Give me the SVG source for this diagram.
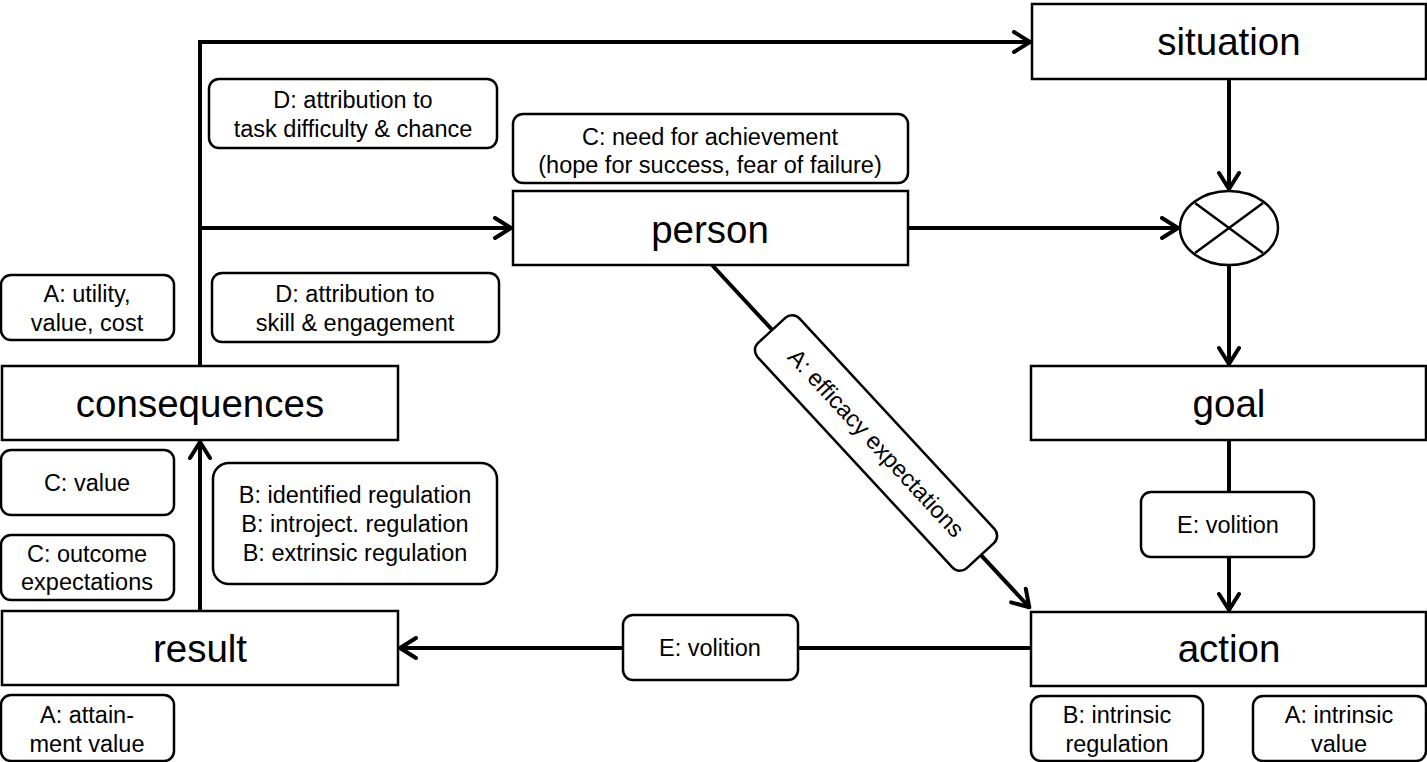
<svg xmlns="http://www.w3.org/2000/svg" width="1427" height="762" viewBox="0 0 1427 762">
<style>
text{font-family:"Liberation Sans",Arial,sans-serif;fill:#000;text-anchor:middle}
.big{font-size:38.5px}
.lab{font-size:23.5px}
.node{fill:#fff;stroke:#000;stroke-width:2.5}
.tag{fill:#fff;stroke:#000;stroke-width:2.5}
.con{fill:none;stroke:#000;stroke-width:4}
</style>
<defs>
<marker id="arr" markerUnits="userSpaceOnUse" viewBox="-22 -12 24 24" refX="0" refY="0" markerWidth="24" markerHeight="24" orient="auto">
<path d="M-17,-10 L-1,0 L-17,10" fill="none" stroke="#000" stroke-width="4" stroke-linecap="round" stroke-linejoin="round"/>
</marker>
</defs>
<rect width="1427" height="762" fill="#fff"/>
<g id="connectors">
<path class="con" d="M200,366 V42 H1031" marker-end="url(#arr)"/>
<path class="con" d="M200,228 H512" marker-end="url(#arr)"/>
<path class="con" d="M908,228 H1179" marker-end="url(#arr)"/>
<path class="con" d="M1229,79 V190" marker-end="url(#arr)"/>
<path class="con" d="M1229,265 V365" marker-end="url(#arr)"/>
<path class="con" d="M1229,440 V492"/>
<path class="con" d="M1229,557 V611" marker-end="url(#arr)"/>
<path class="con" d="M1031,648 H798"/>
<path class="con" d="M623,648 H399" marker-end="url(#arr)"/>
<path class="con" d="M200,611 V441" marker-end="url(#arr)"/>
<path class="con" d="M712,265 L1030,608" marker-end="url(#arr)"/>
</g>
<g id="situation"><rect class="node" x="1032" y="4" width="394" height="75"/><text class="big" x="1229" y="55">situation</text></g>
<g id="person"><rect class="node" x="513" y="191" width="395" height="74"/><text class="big" x="710" y="243">person</text></g>
<g id="consequences"><rect class="node" x="2" y="366" width="396" height="74"/><text class="big" x="200" y="417">consequences</text></g>
<g id="goal"><rect class="node" x="1031" y="366" width="395" height="74"/><text class="big" x="1229" y="417">goal</text></g>
<g id="result"><rect class="node" x="2" y="611" width="396" height="74"/><text class="big" x="200" y="662">result</text></g>
<g id="action"><rect class="node" x="1031" y="612" width="395" height="74"/><text class="big" x="1229" y="662">action</text></g>
<g id="combine"><ellipse cx="1229" cy="228" rx="49" ry="37" fill="#fff" stroke="#000" stroke-width="2.5"/><path d="M1195,203 L1263,253 M1263,203 L1195,253" stroke="#000" stroke-width="2.5"/></g>
<g id="d-task"><rect class="tag" x="209" y="79" width="288" height="69" rx="10"/><text class="lab" x="353" y="108">D: attribution to</text><text class="lab" x="353" y="137">task difficulty &amp; chance</text></g>
<g id="c-need"><rect class="tag" x="513" y="114" width="395" height="69" rx="10"/><text class="lab" x="710" y="145">C: need for achievement</text><text class="lab" x="710" y="173">(hope for success, fear of failure)</text></g>
<g id="a-utility"><rect class="tag" x="1" y="275" width="173" height="65" rx="10"/><text class="lab" x="87" y="302">A: utility,</text><text class="lab" x="87" y="331">value, cost</text></g>
<g id="d-skill"><rect class="tag" x="212" y="273" width="287" height="69" rx="10"/><text class="lab" x="355" y="302">D: attribution to</text><text class="lab" x="355" y="331">skill &amp; engagement</text></g>
<g id="c-value"><rect class="tag" x="1" y="450" width="173" height="65" rx="10"/><text class="lab" x="87" y="491">C: value</text></g>
<g id="c-outcome"><rect class="tag" x="1" y="535" width="173" height="65" rx="10"/><text class="lab" x="87" y="562">C: outcome</text><text class="lab" x="87" y="590">expectations</text></g>
<g id="b-regulation"><rect class="tag" x="213" y="463" width="284" height="121" rx="16"/><text class="lab" x="355" y="503">B: identified regulation</text><text class="lab" x="355" y="532">B: introject. regulation</text><text class="lab" x="355" y="561">B: extrinsic regulation</text></g>
<g id="a-attain"><rect class="tag" x="1" y="695" width="173" height="66" rx="10"/><text class="lab" x="87" y="723">A: attain-</text><text class="lab" x="87" y="752">ment value</text></g>
<g id="e-volition-1"><rect class="tag" x="1141" y="492" width="173" height="65" rx="10"/><text class="lab" x="1228" y="533">E: volition</text></g>
<g id="e-volition-2"><rect class="tag" x="623" y="615" width="175" height="65" rx="10"/><text class="lab" x="710" y="656">E: volition</text></g>
<g id="b-intrinsic"><rect class="tag" x="1031" y="696" width="172" height="65" rx="10"/><text class="lab" x="1117" y="723">B: intrinsic</text><text class="lab" x="1117" y="752">regulation</text></g>
<g id="a-intrinsic"><rect class="tag" x="1253" y="696" width="173" height="65" rx="10"/><text class="lab" x="1339" y="723">A: intrinsic</text><text class="lab" x="1339" y="752">value</text></g>
<g id="a-efficacy" transform="translate(876,443) rotate(47.2)"><rect class="tag" x="-153.5" y="-28.5" width="307" height="57" rx="10"/><text class="lab" x="0" y="8">A: efficacy expectations</text></g>
</svg>
